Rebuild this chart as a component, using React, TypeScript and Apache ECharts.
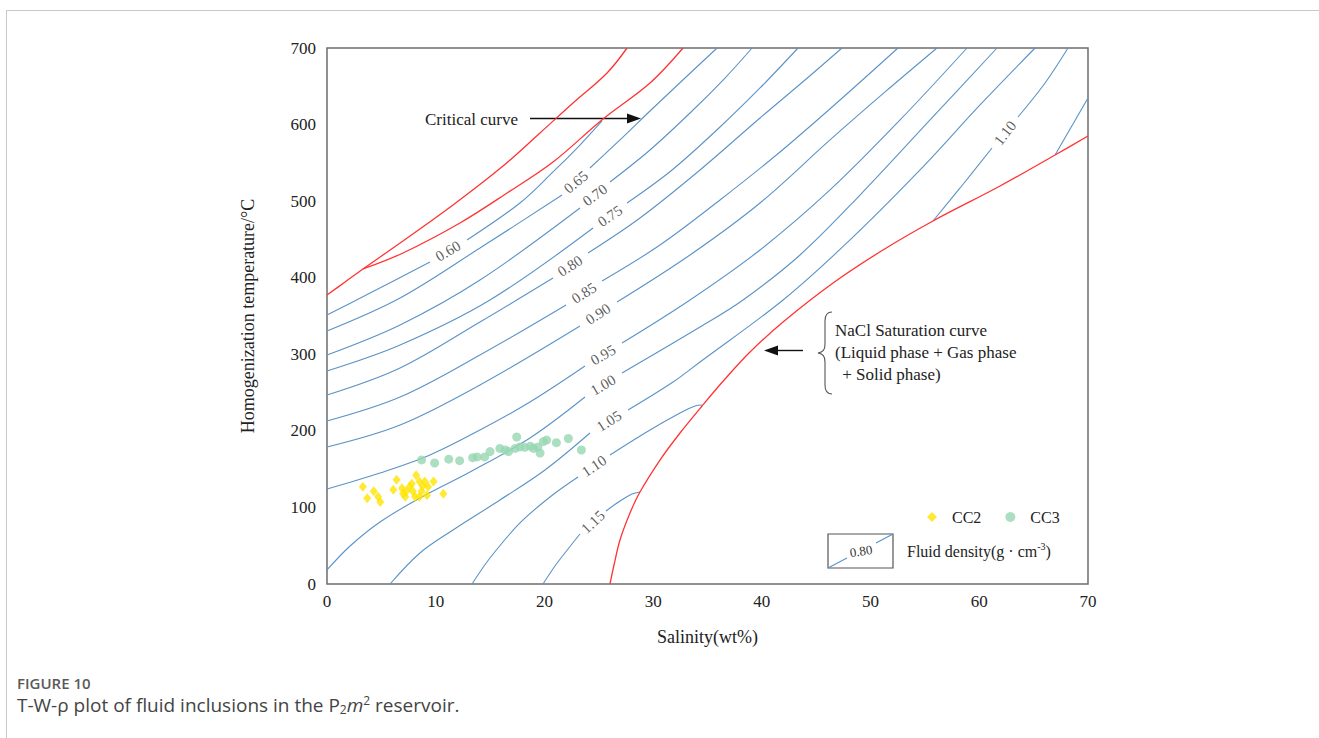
import React, { useEffect, useRef } from "react";
import * as echarts from "echarts";

const SERIF = "'Liberation Serif', 'Times New Roman', serif";
const SANS = "'Open Sans', 'Noto Sans', sans-serif";
const RED = "#ff3333";
const BLUE = "#5b93c6";
const INK = "#222222";

// Axis tick values
const salinityTicks = [0, 10, 20, 30, 40, 50, 60, 70];
const temperatureTicks = [0, 100, 200, 300, 400, 500, 600, 700];

// Phase boundaries, [salinity wt%, temperature °C]
const criticalUpper = [
  [0, 377.4], [1.66, 394.4], [3.31, 411.4], [6.99, 448.0], [11.59, 495.0],
  [16.19, 545.9], [19.59, 589.0], [22.63, 628.2], [25.76, 667.4], [27.6, 700],
];
const criticalLower = [
  [3.31, 411.4], [6.99, 432.3], [12.23, 471.5], [16.56, 510.6], [20.79, 551.1],
  [25.39, 607.3], [29.71, 654.3], [32.75, 700],
];
const naclSaturation = [
  [26.03, 0], [26.4, 24.8], [26.95, 57.5], [27.87, 92.7], [28.79, 120.2],
  [30.63, 161.9], [32.47, 197.2], [34.5, 232.5], [36.61, 267.7], [38.91, 303.0],
  [41.95, 342.2], [46.55, 393.1], [51.14, 436.2], [55.74, 474.1], [61.91, 519.8],
  [66.97, 560.3], [70, 585.1],
];

// Isochores (fluid density, g/cm3); null marks the break where the value label sits
const iso060 = [[0, 351.3], [3.96, 380.0], [9.47, 420.5], null, [12.88, 449.3], [17.75, 497.6], [20.79, 538.1], [23.27, 573.3], [25.3, 604.7]];
const iso065 = [[0, 330.4], [6.72, 373.5], [14.07, 438.8], [21.62, 508.0], null, [24.19, 543.3], [26.95, 579.9], [29.71, 617.7], [32.93, 660.8], [35.88, 700]];
const iso070 = [[0, 299.1], [6.72, 338.3], [14.07, 397.0], [23.27, 491.0], null, [26.03, 525.0], [29.71, 566.8], [33.39, 615.1], [36.61, 660.8], [39.1, 700]];
const iso075 = [[0, 278.2], [6.72, 312.1], [14.99, 370.9], [24.47, 464.9], null, [27.6, 497.6], [31.74, 540.7], [36.15, 596.8], [39.83, 647.8], [43.33, 700]];
const iso080 = [[0, 246.8], [6.72, 282.1], [14.07, 342.2], [20.79, 399.6], null, [24.01, 432.3], [28.79, 478.0], [34.31, 540.7], [39.83, 608.6], [43.97, 658.2], [47.37, 700]];
const iso085 = [[0, 212.9], [6.72, 244.2], [14.07, 299.1], [21.99, 364.4], null, [25.3, 395.7], [30.63, 442.7], [36.15, 501.5], [41.67, 564.2], [47.19, 632.1], [52.52, 700]];
const iso090 = [[0, 178.9], [6.72, 207.6], [14.07, 259.9], [23.27, 336.9], null, [26.68, 368.3], [33.39, 429.7], [39.83, 497.6], [46.27, 579.9], [51.33, 642.6], [56.11, 700]];
const iso095 = [[0, 124.1], [4.88, 145.0], [9.47, 168.5], [14.07, 201.1], [18.67, 237.7], [23.73, 284.7], null, [27.14, 314.7], [33.39, 370.9], [39.83, 436.2], [46.27, 514.6], [52.71, 606.0], [58.87, 700]];
const iso100 = [[0, 18.3], [2.12, 49.6], [4.88, 81.0], [8.55, 112.3], [13.15, 146.3], [18.67, 190.7], [23.73, 244.2], null, [27.14, 275.6], [34.31, 335.6], [38.27, 370.9], [43.51, 429.7], [49.03, 508.0], [55.47, 606.0], [61.63, 700]];
const iso105 = [[5.8, 0], [8.55, 40.5], [11.59, 70.5], [15.91, 109.7], [20.05, 148.9], [24.19, 197.2], null, [27.69, 227.2], [31.83, 263.8], [34.31, 289.9], [41.95, 370.9], [48.11, 449.3], [54.55, 540.7], [60.07, 625.6], [65.13, 700]];
const iso110 = [[13.34, 0], [14.99, 34.0], [17.75, 79.7], [20.51, 113.6], [23.09, 139.7], null, [26.03, 168.5], [29.71, 201.1], [32.47, 223.3], [33.85, 232.5], [34.5, 233.8]];
const iso115 = [[19.87, 0], [20.97, 23.5], [22.17, 45.7], [23.27, 65.3], null, [25.66, 95.3], [26.95, 108.4], [28.06, 117.5], [28.79, 120.2]];
const iso110Halite = [[55.74, 474.1], [58.23, 517.2], [61.17, 569.4], null, [63.56, 609.9], [66.05, 654.3], [68.16, 700]];
const iso115Halite = [[66.97, 560.3], [70, 634.7]];

const isochores = [iso060, iso065, iso070, iso075, iso080, iso085, iso090, iso095, iso100, iso105, iso110, iso115, iso110Halite, iso115Halite];

// Isochore value labels: [text, salinity, temperature]
const isochoreLabels = [
  ["0.60", 11.13, 434.9], ["0.65", 22.9, 525.0], ["0.70", 24.65, 508.0], ["0.75", 26.03, 480.6],
  ["0.80", 22.35, 415.3], ["0.85", 23.64, 380.0], ["0.90", 24.93, 352.6], ["0.95", 25.39, 299.1],
  ["1.00", 25.39, 259.9], ["1.05", 25.94, 212.9], ["1.10", 24.56, 154.1], ["1.15", 24.47, 81.0],
  ["1.10", 62.37, 589.0],
];
const isochoreLabelAngles = [31, 40, 36, 34, 33, 33, 33, 30, 30, 32, 34, 43, 52];

// Fluid inclusion measurements [salinity wt%, homogenization temperature °C]
const cc2 = [
  [3.3, 127], [3.7, 112], [4.3, 121], [4.7, 114], [4.9, 107], [6.1, 123], [6.4, 136],
  [6.9, 125], [7.0, 118], [7.2, 114], [7.3, 121], [7.6, 127], [7.8, 131], [7.9, 121],
  [8.1, 114], [8.2, 142], [8.5, 134], [8.5, 114], [8.7, 121], [8.8, 128], [9.0, 134],
  [9.2, 116], [9.3, 127], [9.8, 134], [10.7, 118],
];
const cc3 = [
  [8.7, 162], [9.9, 158], [11.2, 163], [12.2, 161], [13.4, 165], [13.8, 166], [14.5, 166],
  [15.0, 173], [15.9, 177], [16.4, 175], [16.7, 173], [17.3, 177], [17.45, 192], [17.75, 179],
  [18.2, 178.5], [18.7, 180], [19.0, 177], [19.4, 179], [19.6, 171], [19.9, 186], [20.2, 188],
  [21.1, 184.5], [22.2, 190], [23.4, 175],
];

// Left curly brace used by the NaCl saturation note
echarts.graphic.registerShape(
  "curlyBrace",
  echarts.graphic.extendPath(
    "M15,0 C10,0 8,3 8,9 L8,32 C8,38 6,40 1,41 C6,42 8,44 8,50 L8,73 C8,79 10,82 15,82",
    {}
  )
);

function splitAtBreaks(points: any[]) {
  const out: any[][] = [[]];
  points.forEach((p) => (p ? out[out.length - 1].push(p) : out.push([])));
  return out.filter((s) => s.length > 1);
}

function curveSeries(data: any[], color: string, width: number) {
  return {
    type: "line",
    data,
    smooth: 0.35,
    symbol: "none",
    silent: true,
    z: 2,
    lineStyle: { color, width },
  };
}

export default function App() {
  const ref = useRef<HTMLDivElement>(null);

  useEffect(() => {
    if (!ref.current) return;
    const chart = echarts.init(ref.current, undefined, { renderer: "svg" });

    const series: any[] = [];
    isochores.forEach((iso) =>
      splitAtBreaks(iso).forEach((seg) => series.push(curveSeries(seg, BLUE, 1.1)))
    );
    [criticalUpper, criticalLower, naclSaturation].forEach((c) =>
      series.push(curveSeries(c, RED, 1.3))
    );
    series.push({
      type: "scatter",
      silent: true,
      symbol: "circle",
      symbolSize: 1,
      itemStyle: { color: "transparent" },
      z: 4,
      data: isochoreLabels.map(([t, x, y], i) => ({
        name: t,
        value: [x, y],
        label: { rotate: isochoreLabelAngles[i] },
      })),
      label: {
        show: true,
        position: "inside",
        formatter: "{b}",
        fontFamily: SERIF,
        fontSize: 15,
        color: "#333",
      },
    });
    series.push({
      name: "CC2",
      type: "scatter",
      symbol: "diamond",
      symbolSize: [8, 10],
      itemStyle: { color: "#ffe400" },
      z: 5,
      data: cc2,
    });
    series.push({
      name: "CC3",
      type: "scatter",
      symbol: "circle",
      symbolSize: 9,
      itemStyle: { color: "#97d7b3" },
      z: 5,
      data: cc3,
    });

    const textBase = { fontFamily: SERIF, fill: INK };

    chart.setOption({
      animation: false,
      backgroundColor: "#ffffff",
      grid: {
        left: 327,
        top: 48,
        width: 761,
        height: 536,
        show: true,
        borderColor: "#6e6e6e",
        borderWidth: 1.5,
        backgroundColor: "transparent",
      },
      xAxis: {
        type: "value",
        min: salinityTicks[0],
        max: salinityTicks[salinityTicks.length - 1],
        interval: salinityTicks[1] - salinityTicks[0],
        axisLine: { show: false },
        axisTick: { show: false },
        splitLine: { show: false },
        axisLabel: { fontFamily: SERIF, fontSize: 17, color: INK, margin: 9 },
        name: "Salinity(wt%)",
        nameLocation: "middle",
        nameGap: 44,
        nameTextStyle: { fontFamily: SERIF, fontSize: 18, color: INK },
      },
      yAxis: {
        type: "value",
        min: temperatureTicks[0],
        max: temperatureTicks[temperatureTicks.length - 1],
        interval: temperatureTicks[1] - temperatureTicks[0],
        axisLine: { show: false },
        axisTick: { show: false },
        splitLine: { show: false },
        axisLabel: { fontFamily: SERIF, fontSize: 17, color: INK, margin: 11 },
        name: "Homogenization temperature/°C",
        nameLocation: "middle",
        nameRotate: 90,
        nameGap: 70,
        nameTextStyle: { fontFamily: SERIF, fontSize: 18, color: INK },
      },
      legend: {
        data: ["CC2", "CC3"],
        left: 922,
        top: 504,
        itemWidth: 10,
        itemHeight: 10,
        itemGap: 24,
        selectedMode: false,
        textStyle: { fontFamily: SERIF, fontSize: 16, color: INK, padding: [0, 0, 0, 10] },
      },
      graphic: [
        // page frame
        { type: "line", silent: true, shape: { x1: 6.5, y1: 10.5, x2: 1319, y2: 10.5 }, style: { stroke: "#c8c8c8", lineWidth: 1 } },
        { type: "line", silent: true, shape: { x1: 6.5, y1: 10.5, x2: 6.5, y2: 738 }, style: { stroke: "#c8c8c8", lineWidth: 1 } },
        // critical curve note
        { type: "text", x: 425, y: 119, style: { ...textBase, text: "Critical curve", fontSize: 17, verticalAlign: "middle" } },
        { type: "line", shape: { x1: 530, y1: 118.5, x2: 628, y2: 118.5 }, style: { stroke: "#111", lineWidth: 1.4 } },
        { type: "polygon", shape: { points: [[627, 113.5], [641, 118.5], [627, 123.5]] }, style: { fill: "#111" } },
        // NaCl saturation note
        { type: "curlyBrace", x: 817, y: 312, style: { stroke: "#555", fill: "none", lineWidth: 1.1 } },
        { type: "text", x: 835, y: 330, style: { ...textBase, text: "NaCl Saturation curve", fontSize: 17, verticalAlign: "middle" } },
        { type: "text", x: 835, y: 352, style: { ...textBase, text: "(Liquid phase + Gas phase", fontSize: 17, verticalAlign: "middle" } },
        { type: "text", x: 838, y: 374, style: { ...textBase, text: " + Solid phase)", fontSize: 17, verticalAlign: "middle" } },
        { type: "line", shape: { x1: 776, y1: 350.5, x2: 803, y2: 350.5 }, style: { stroke: "#111", lineWidth: 1.4 } },
        { type: "polygon", shape: { points: [[778, 345.5], [764, 350.5], [778, 355.5]] }, style: { fill: "#111" } },
        // density key
        { type: "rect", shape: { x: 828, y: 534, width: 65, height: 34 }, style: { stroke: "#555", fill: "none", lineWidth: 1.2 } },
        { type: "line", shape: { x1: 828, y1: 568, x2: 847, y2: 558 }, style: { stroke: BLUE, lineWidth: 1.1 } },
        { type: "line", shape: { x1: 876, y1: 543, x2: 893, y2: 534 }, style: { stroke: BLUE, lineWidth: 1.1 } },
        { type: "text", x: 861, y: 551, rotation: 0.15, style: { ...textBase, text: "0.80", fontSize: 13, align: "center", verticalAlign: "middle", fill: "#333" } },
        {
          type: "text",
          x: 907,
          y: 551,
          style: {
            ...textBase,
            text: "Fluid density(g · cm{sup|-3})",
            fontSize: 16,
            lineHeight: 20,
            verticalAlign: "middle",
            rich: { sup: { fontFamily: SERIF, fontSize: 10, verticalAlign: "top", lineHeight: 20, fill: INK } },
          },
        },
        // caption
        { type: "text", x: 17, y: 683, style: { text: "FIGURE 10", fontFamily: SANS, fontSize: 15, fontWeight: 600, fill: "#5a5a5a", verticalAlign: "middle" } },
        {
          type: "text",
          x: 17,
          y: 705,
          style: {
            text: "T-W-ρ plot of fluid inclusions in the P{sub|2}{it|m}{sup|2} reservoir.",
            fontFamily: SANS,
            fontSize: 19,
            lineHeight: 21,
            fill: "#444",
            verticalAlign: "middle",
            rich: {
              sub: { fontFamily: SANS, fontSize: 12, lineHeight: 12, padding: [9, 0, 0, 0], fill: "#444" },
              it: { fontFamily: SANS, fontSize: 19, fontStyle: "italic", lineHeight: 21, fill: "#444" },
              sup: { fontFamily: SANS, fontSize: 12, lineHeight: 12, padding: [0, 0, 9, 0], fill: "#444" },
            },
          },
        },
      ],
      series,
    });

    return () => chart.dispose();
  }, []);

  return (
    <div
      ref={ref}
      style={{ position: "fixed", left: 0, top: 0, width: 1319, height: 738, background: "#fff" }}
    />
  );
}
